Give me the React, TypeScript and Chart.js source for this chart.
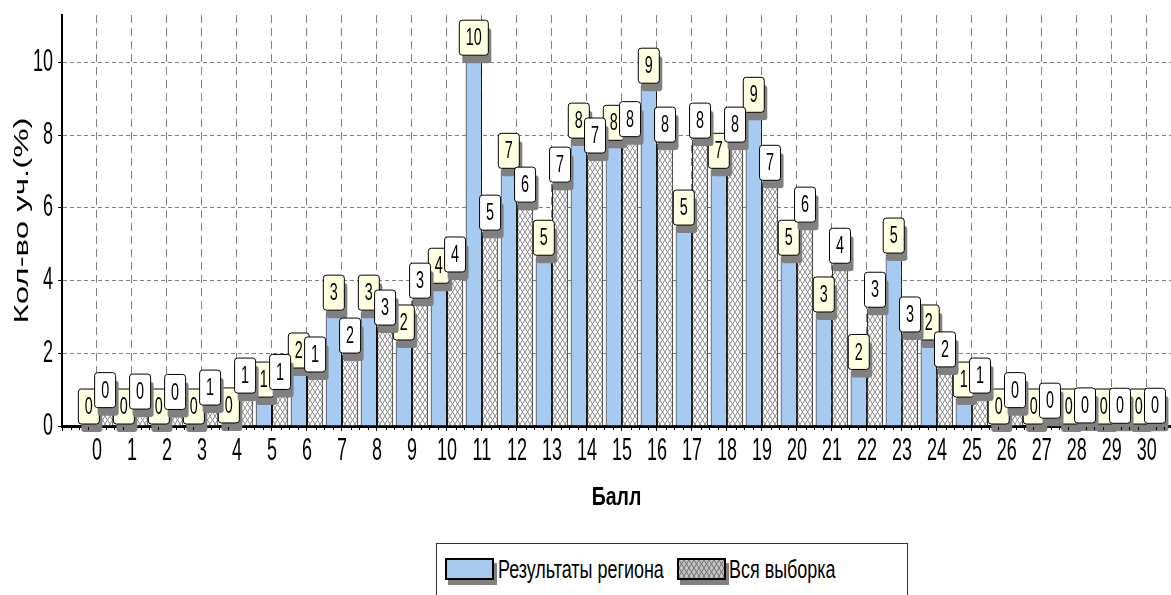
import React, { useEffect, useMemo, useRef } from 'react';
import { Chart, registerables } from 'chart.js';

Chart.register(...registerables);

// ---------- data ----------
const scores: number[] = [
  0, 1, 2, 3, 4, 5, 6, 7, 8, 9, 10, 11, 12, 13, 14, 15,
  16, 17, 18, 19, 20, 21, 22, 23, 24, 25, 26, 27, 28, 29, 30,
];
const regionValues: number[] = [
  0, 0, 0, 0, 0.03, 0.74, 1.54, 3.13, 3.13, 2.31, 3.87, 10.14, 7.03, 4.64, 7.86, 7.8,
  9.37, 5.47, 7.03, 8.57, 4.64, 3.08, 1.5, 4.7, 2.31, 0.74, 0, 0, 0, 0, 0,
];
const allValues: number[] = [
  0.45, 0.41, 0.4, 0.52, 0.85, 0.95, 1.43, 1.95, 2.72, 3.46, 4.18, 5.33, 6.1, 6.65, 7.45, 7.9,
  7.75, 7.86, 7.75, 6.7, 5.55, 4.42, 3.21, 2.53, 1.57, 0.85, 0.45, 0.16, 0.03, 0.02, 0.02,
];
const seriesNames: string[] = ['Результаты региона', 'Вся выборка'];
const xTitle = 'Балл';
const yTitle = 'Кол-во уч.(%)';
const yMin = 0;
const yMax = 11.3;
const yStep = 2;
const xMin = -1;
const xMax = 30.69;

// ---------- styling ----------
const FONT = '"Liberation Sans", Arimo, Arial, sans-serif';
const BLUE = '#A6CAF0';
const MARK_YELLOW = '#FFFFE1';
const SHADOW = '#808080';
const GRID = '#808080';
// horizontal squeeze per font size (the reference uses a condensed face)
const SQUEEZE: Record<string, number> = { '31': 0.58, '33': 0.62, '25': 0.78, '24': 0.6 };

function makeTile(bg: string, line: string): HTMLCanvasElement {
  const c = document.createElement('canvas');
  c.width = 5;
  c.height = 8;
  const g = c.getContext('2d')!;
  g.fillStyle = bg;
  g.fillRect(0, 0, 5, 8);
  g.strokeStyle = line;
  g.lineWidth = 1;
  g.beginPath();
  g.moveTo(-5, -8);
  g.lineTo(10, 16);
  g.moveTo(10, -8);
  g.lineTo(-5, 16);
  g.stroke();
  return c;
}

function installSqueeze(ctx: CanvasRenderingContext2D) {
  const proto = Object.getPrototypeOf(ctx).fillText as (t: string, x: number, y: number, w?: number) => void;
  (ctx as any).fillText = function (text: string, x: number, y: number, maxWidth?: number) {
    const m = /(\d+(?:\.\d+)?)px/.exec(ctx.font);
    const s = m ? SQUEEZE[String(Math.round(parseFloat(m[1])))] : undefined;
    if (!s) {
      if (maxWidth === undefined) proto.call(ctx, text, x, y);
      else proto.call(ctx, text, x, y, maxWidth);
      return;
    }
    const t = ctx.getTransform();
    const p = t.transformPoint(new DOMPoint(x, y));
    const nt = new DOMMatrix().translate(p.x, p.y).scale(s, 1).translate(-p.x, -p.y).multiply(t);
    ctx.setTransform(nt);
    proto.call(ctx, text, x, y);
    ctx.setTransform(t);
  };
}

function roundRect(ctx: CanvasRenderingContext2D, x: number, y: number, w: number, h: number, r: number) {
  ctx.beginPath();
  ctx.moveTo(x + r, y);
  ctx.lineTo(x + w - r, y);
  ctx.quadraticCurveTo(x + w, y, x + w, y + r);
  ctx.lineTo(x + w, y + h - r);
  ctx.quadraticCurveTo(x + w, y + h, x + w - r, y + h);
  ctx.lineTo(x + r, y + h);
  ctx.quadraticCurveTo(x, y + h, x, y + h - r);
  ctx.lineTo(x, y + r);
  ctx.quadraticCurveTo(x, y, x + r, y);
  ctx.closePath();
}

const markPlugin = {
  id: 'marks',
  afterDatasetsDraw(chart: any) {
    const ctx: CanvasRenderingContext2D = chart.ctx;
    chart.data.datasets.forEach((ds: any, di: number) => {
      const meta = chart.getDatasetMeta(di);
      meta.data.forEach((bar: any, i: number) => {
        const v = ds.data[i] as number;
        const txt = String(Math.round(v));
        ctx.save();
        ctx.font = `24px ${FONT}`;
        const tw = ctx.measureText(txt).width * SQUEEZE['24'];
        const w = tw + 13;
        const h = 35;
        const left = bar.x - w / 2;
        const top = bar.y - 2 - h;
        ctx.fillStyle = SHADOW;
        roundRect(ctx, left + 3, top + 8, w, h, 3);
        ctx.fill();
        ctx.fillStyle = di === 0 ? MARK_YELLOW : '#FFFFFF';
        roundRect(ctx, left, top, w, h, 3);
        ctx.fill();
        ctx.strokeStyle = '#000';
        ctx.lineWidth = 1;
        ctx.stroke();
        ctx.fillStyle = '#000';
        ctx.textAlign = 'center';
        ctx.textBaseline = 'middle';
        ctx.fillText(txt, bar.x, top + h / 2 + 1);
        ctx.restore();
      });
    });
  },
};

const minorTickPlugin = {
  id: 'minorTicks',
  afterDraw(chart: any) {
    const ctx: CanvasRenderingContext2D = chart.ctx;
    const xs = chart.scales.x;
    const y0 = chart.chartArea.bottom;
    ctx.save();
    ctx.strokeStyle = '#000';
    ctx.lineWidth = 1;
    ctx.beginPath();
    for (let k = xMin * 4; k <= Math.floor(xMax * 4); k++) {
      if (k % 4 === 0) continue;
      const px = Math.round(xs.getPixelForValue(k / 4)) + 0.5;
      ctx.moveTo(px, y0 + 1);
      ctx.lineTo(px, y0 + 4);
    }
    ctx.stroke();
    ctx.restore();
  },
};

export default function App() {
  const ref = useRef<HTMLCanvasElement>(null);
  const legendHatch = useMemo(() => makeTile('#c4c4c4', '#6e6e6e').toDataURL(), []);

  useEffect(() => {
    const canvas = ref.current!;
    const ctx = canvas.getContext('2d')!;
    installSqueeze(ctx);
    const pattern = ctx.createPattern(makeTile('#ffffff', '#8a8a8a'), 'repeat')!;
    const chart = new Chart(canvas, {
      type: 'bar',
      data: {
        labels: scores,
        datasets: [
          {
            label: seriesNames[0],
            data: regionValues,
            backgroundColor: BLUE,
            borderColor: '#000',
            borderWidth: 1,
            categoryPercentage: 0.93,
            barPercentage: 1,
          },
          {
            label: seriesNames[1],
            data: allValues,
            backgroundColor: pattern as any,
            borderColor: '#000',
            borderWidth: 1,
            categoryPercentage: 0.93,
            barPercentage: 1,
          },
        ],
      },
      options: {
        responsive: false,
        animation: false,
        devicePixelRatio: 1,
        layout: { padding: { top: 15, left: 0, right: 0, bottom: 81.6 } },
        plugins: { legend: { display: false }, tooltip: { enabled: false } },
        scales: {
          x: {
            type: 'linear',
            min: xMin,
            max: xMax,
            offset: false,
            ticks: {
              stepSize: 1,
              autoSkip: false,
              maxRotation: 0,
              minRotation: 0,
              includeBounds: false,
              padding: 2,
              color: '#000',
              font: { size: 31, family: FONT },
              callback: (v: any) => (Number(v) >= 0 ? String(v) : ''),
            },
            grid: {
              offset: false,
              color: (c: any) => (c.tick && c.tick.value >= 0 ? GRID : 'rgba(0,0,0,0)'),
              lineWidth: 1,
              tickLength: 5,
              tickColor: '#000',
            },
            border: { display: true, color: '#000', width: 3, dash: [8, 5] },
            title: {
              display: true,
              text: xTitle,
              color: '#000',
              font: { size: 25, weight: 'bold', family: FONT },
              padding: 0,
            },
            afterFit: (s: any) => {
              s.height = 87.4;
              s.paddingLeft = 0;
              s.paddingRight = 0;
            },
          } as any,
          y: {
            min: yMin,
            max: yMax,
            ticks: {
              stepSize: yStep,
              includeBounds: false,
              padding: 5,
              color: '#000',
              font: { size: 31, family: FONT },
            },
            grid: {
              color: (c: any) => (c.tick && c.tick.value > 0 ? GRID : 'rgba(0,0,0,0)'),
              lineWidth: 1,
              tickLength: 4,
              tickColor: '#000',
            },
            border: { display: true, color: '#000', width: 2, dash: [4, 3] },
            title: {
              display: true,
              text: yTitle,
              color: '#000',
              font: { size: 33, family: FONT },
              padding: { top: 3, bottom: 0 },
            },
            afterFit: (s: any) => {
              s.width = 62;
              s.paddingTop = 0;
              s.paddingBottom = 0;
            },
          } as any,
        },
      },
      plugins: [markPlugin, minorTickPlugin],
    } as any);
    return () => {
      chart.destroy();
      delete (ctx as any).fillText;
    };
  }, []);

  const legendText: React.CSSProperties = {
    position: 'absolute',
    top: 12,
    fontFamily: FONT,
    fontSize: 26,
    lineHeight: '26px',
    color: '#000',
    whiteSpace: 'nowrap',
    transform: 'scaleX(0.69)',
    transformOrigin: '0 0',
  };
  const swatch: React.CSSProperties = {
    position: 'absolute',
    top: 14,
    width: 49,
    height: 22,
    boxSizing: 'border-box',
    border: '2px solid #000',
    boxShadow: `3px 5px 0 ${SHADOW}`,
  };

  return (
    <div
      style={{
        position: 'fixed',
        left: 0,
        top: 0,
        width: 1171,
        height: 595,
        overflow: 'hidden',
        background: '#fff',
      }}
    >
      <canvas ref={ref} width={1171} height={595} style={{ position: 'absolute', left: 0, top: 0, width: 1171, height: 595 }} />
      <div
        style={{
          position: 'absolute',
          left: 436,
          top: 543,
          width: 472,
          height: 52,
          boxSizing: 'border-box',
          border: '1px solid #333',
          borderBottom: 'none',
          background: '#fff',
        }}
      >
        <div style={{ ...swatch, left: 8, background: BLUE }} />
        <div style={{ ...legendText, left: 61 }}>{seriesNames[0]}</div>
        <div style={{ ...swatch, left: 240, backgroundImage: `url(${legendHatch})` }} />
        <div style={{ ...legendText, left: 292 }}>{seriesNames[1]}</div>
      </div>
    </div>
  );
}
